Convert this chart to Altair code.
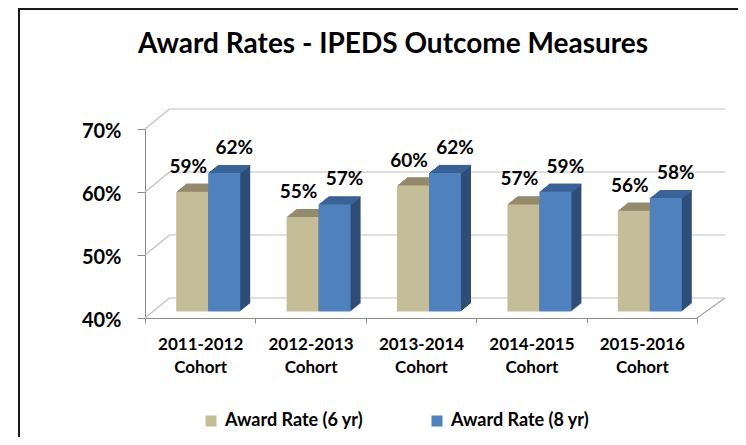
import altair as alt
import pandas as pd

# ---- data -------------------------------------------------------------
cohorts = ["2011-2012 Cohort", "2012-2013 Cohort", "2013-2014 Cohort",
           "2014-2015 Cohort", "2015-2016 Cohort"]
series = ["Award Rate (6 yr)", "Award Rate (8 yr)"]
rate_6yr = [59, 55, 60, 57, 56]
rate_8yr = [62, 57, 62, 59, 58]
y_ticks = [40, 50, 60, 70]
title_text = "Award Rates - IPEDS Outcome Measures"

# ---- style ------------------------------------------------------------
front_colors = ["#C4BD97", "#4F81BD"]
top_colors = ["#948A6C", "#3B6398"]
side_colors = ["#7A7257", "#2E4E77"]
FONT = "Lato"
W, H = 552, 189
BAR_W = 32
BAR_DX = [-8, 24]          # bar centre shift from band centre (px)
PLANE_DY = -6.5            # bars stand slightly behind the front plane
DEPTH_X, DEPTH_Y = 10, 8   # bar depth (px)
STEPS = 10
WALL_DX_L, WALL_DX_R, WALL_DY = 24.5, 28, -20
LABEL_DX = [-12, 34]
GRID = "#BFBFBF"
AXIS = "#8C8C8C"

floor = y_ticks[0]


def series_df(i, vals):
    return pd.DataFrame({
        "cohort": cohorts,
        "series": series[i],
        "value": vals,
        "base": floor,
        "label": [f"{v}%" for v in vals],
    })


dfs = [series_df(0, rate_6yr), series_df(1, rate_8yr)]
grid_df = pd.DataFrame({"value": y_ticks})
floor_df = pd.DataFrame({"value": [floor]})

x_enc = alt.X(
    "cohort:N", sort=cohorts,
    scale=alt.Scale(domain=cohorts, paddingInner=0, paddingOuter=0),
    axis=alt.Axis(
        title=None, labelExpr="split(datum.label, ' ')", labelAngle=0,
        labelFont=FONT, labelFontSize=17, labelFontWeight="bold",
        labelColor="#000000", labelLineHeight=23, labelPadding=13,
        tickBand="extent", tickSize=5, tickColor=AXIS, domainColor=AXIS,
        grid=False,
    ),
)
y_enc = alt.Y(
    "value:Q",
    scale=alt.Scale(domain=[y_ticks[0], y_ticks[-1]], zero=False, nice=False),
    axis=alt.Axis(
        title=None, values=y_ticks, labelExpr="datum.value + '%'",
        labelFont=FONT, labelFontSize=20, labelFontWeight="bold",
        labelColor="#000000", labelPadding=16, labelOffset=2, tickSize=8,
        tickColor=AXIS, domainColor=AXIS, grid=False,
    ),
)

layers = []

# chart-area border (left and top edges visible)
one = pd.DataFrame({"value": [0]})
layers.append(alt.Chart(one).mark_rule(color="#1A1A1A", strokeWidth=2).encode(
    x=alt.value(-126), y=alt.value(-121), y2=alt.value(340)))
layers.append(alt.Chart(one).mark_rule(color="#1A1A1A", strokeWidth=2).encode(
    x=alt.value(-127), x2=alt.value(620), y=alt.value(-120)))

# back wall gridlines
layers.append(alt.Chart(grid_df).mark_rule(color=GRID, strokeWidth=1.2, yOffset=WALL_DY).encode(
    y=y_enc, x=alt.value(WALL_DX_L), x2=alt.value(W + WALL_DX_R)))
# side wall diagonals
layers.append(alt.Chart(grid_df).mark_rule(color=GRID, strokeWidth=1.2, y2Offset=WALL_DY).encode(
    y=y_enc, y2="value:Q", x=alt.value(0), x2=alt.value(WALL_DX_L)))
# floor right edge
layers.append(alt.Chart(floor_df).mark_rule(color="#A6A6A6", strokeWidth=1.2, y2Offset=WALL_DY).encode(
    y=y_enc, y2="value:Q", x=alt.value(W), x2=alt.value(W + WALL_DX_R)))

color_enc = alt.Color(
    "series:N", scale=alt.Scale(domain=series, range=front_colors),
    legend=alt.Legend(
        title=None, orient="none", legendX=57, legendY=283,
        direction="horizontal", symbolType="square", symbolSize=121,
        symbolStrokeWidth=0, labelFont=FONT, labelFontSize=18,
        labelFontWeight="bold", labelColor="#000000", labelOffset=5,
        columnPadding=64, labelLimit=400, padding=0,
    ),
)

for i, df in enumerate(dfs):
    # extruded body (side colour)
    for k in range(STEPS, 0, -1):
        ox = BAR_DX[i] + DEPTH_X * k / STEPS
        oy = PLANE_DY - DEPTH_Y * k / STEPS
        layers.append(alt.Chart(df).mark_bar(
            width=BAR_W, xOffset=ox, yOffset=oy, y2Offset=oy,
            color=side_colors[i]).encode(x=x_enc, y=y_enc, y2="base:Q"))
    # top face
    for k in range(STEPS, 0, -1):
        ox = BAR_DX[i] + DEPTH_X * k / STEPS
        oy = PLANE_DY - DEPTH_Y * k / STEPS
        layers.append(alt.Chart(df).mark_bar(
            width=BAR_W, xOffset=ox, yOffset=oy, y2Offset=oy + 1.4,
            color=top_colors[i]).encode(x=x_enc, y=y_enc, y2="value:Q"))
    # front face
    layers.append(alt.Chart(df).mark_bar(
        width=BAR_W, xOffset=BAR_DX[i], yOffset=PLANE_DY, y2Offset=PLANE_DY).encode(
        x=x_enc, y=y_enc, y2="base:Q", color=color_enc))

for i, df in enumerate(dfs):
    layers.append(alt.Chart(df).mark_text(
        font=FONT, fontSize=19, fontWeight="bold", color="#000000",
        align="center", baseline="alphabetic",
        dx=LABEL_DX[i], dy=PLANE_DY - 19).encode(
        x=x_enc, y=y_enc, text="label:N"))

# title
layers.append(alt.Chart(pd.DataFrame({"t": [title_text]})).mark_text(
    font=FONT, fontSize=28, fontWeight="bold", color="#000000",
    align="center", baseline="alphabetic").encode(
    text="t:N", x=alt.value(248), y=alt.value(-76)))

chart = alt.layer(*layers).properties(
    width=W, height=H,
    autosize=alt.AutoSizeParams(type="none"),
    padding={"left": 137, "top": 121, "right": 41, "bottom": 119},
    background="white",
).configure_view(stroke=None)

chart.save("out.html", embed_options={"renderer": "svg", "actions": False})
